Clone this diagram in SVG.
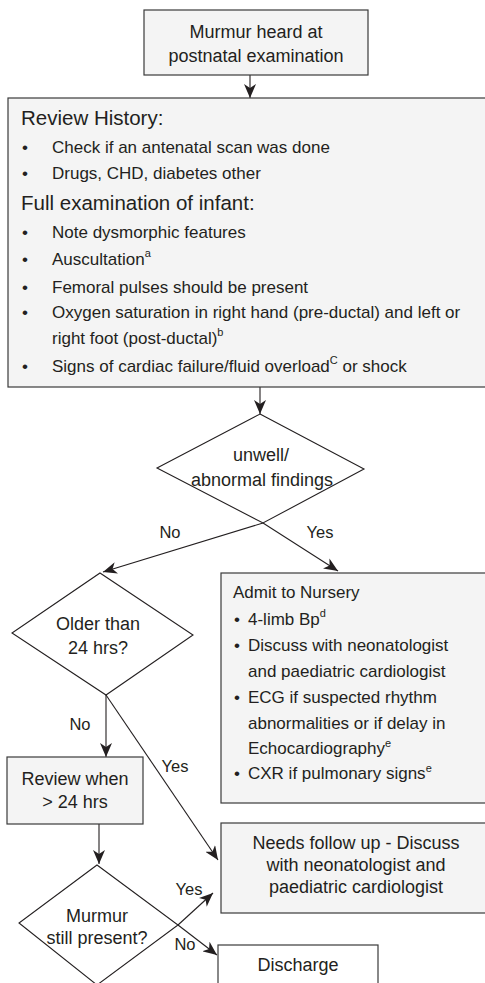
<svg xmlns="http://www.w3.org/2000/svg" width="485" height="983" viewBox="0 0 485 983">
  <defs>
    <marker id="arrow" markerUnits="userSpaceOnUse" markerWidth="16" markerHeight="12" refX="14" refY="6" orient="auto">
      <path d="M0,0 L14,6 L0,12 L4,6 Z" fill="#231f20"/>
    </marker>
    <style>
      .box { fill: #f4f4f4; stroke: #3a3a3a; stroke-width: 1.2; }
      .plain { fill: #ffffff; stroke: #3a3a3a; stroke-width: 1.2; }
      .dia { fill: #ffffff; stroke: #231f20; stroke-width: 1.1; }
      .edge { fill: none; stroke: #231f20; stroke-width: 1.1; marker-end: url(#arrow); }
      text { font-family: "Liberation Sans", Arial, sans-serif; fill: #231f20; }
      .c { text-anchor: middle; font-size: 18px; }
      .h { font-size: 20.5px; }
      .b { font-size: 17px; }
      .lbl { font-size: 16.5px; text-anchor: middle; }
      .sup { font-size: 11px; }
    </style>
  </defs>

  <g id="connectors">
    <line class="edge" x1="250" y1="75" x2="250" y2="98"/>
    <line class="edge" x1="260" y1="387" x2="260" y2="414"/>
    <polyline class="edge" points="263,523 103,572"/>
    <polyline class="edge" points="263,523 338,571"/>
    <line class="edge" x1="106" y1="695" x2="106" y2="757"/>
    <line class="edge" x1="106" y1="695" x2="218" y2="860"/>
    <line class="edge" x1="99" y1="824" x2="99" y2="864"/>
    <line class="edge" x1="178" y1="925" x2="213" y2="893"/>
    <line class="edge" x1="178" y1="925" x2="217" y2="955"/>
    <text class="lbl" x="170" y="538">No</text>
    <text class="lbl" x="320" y="538">Yes</text>
    <text class="lbl" x="80" y="730">No</text>
    <text class="lbl" x="175" y="772">Yes</text>
    <text class="lbl" x="189" y="895">Yes</text>
    <text class="lbl" x="185" y="950">No</text>
  </g>

  <g id="murmur-heard">
    <rect class="box" x="144" y="10" width="224" height="65"/>
    <text class="c" x="256" y="38">Murmur heard at</text>
    <text class="c" x="256" y="62">postnatal examination</text>
  </g>

  <g id="review-history">
    <rect class="box" x="8" y="98" width="490" height="289"/>
    <text class="h" x="21" y="125">Review History:</text>
    <text class="b" x="22" y="153">•</text>
    <text class="b" x="52" y="153">Check if an antenatal scan was done</text>
    <text class="b" x="22" y="179">•</text>
    <text class="b" x="52" y="179">Drugs, CHD, diabetes other</text>
    <text class="h" x="21" y="210">Full examination of infant:</text>
    <text class="b" x="22" y="238">•</text>
    <text class="b" x="52" y="238">Note dysmorphic features</text>
    <text class="b" x="22" y="265">•</text>
    <text class="b" x="52" y="265">Auscultation<tspan class="sup" dy="-8">a</tspan></text>
    <text class="b" x="22" y="293">•</text>
    <text class="b" x="52" y="293">Femoral pulses should be present</text>
    <text class="b" x="22" y="318">•</text>
    <text class="b" x="52" y="318">Oxygen saturation in right hand (pre-ductal) and left or</text>
    <text class="b" x="52" y="344">right foot (post-ductal)<tspan class="sup" dy="-8">b</tspan></text>
    <text class="b" x="22" y="372">•</text>
    <text class="b" x="52" y="372">Signs of cardiac failure/fluid overload<tspan class="sup" dy="-8">C</tspan><tspan dy="8"> or shock</tspan></text>
  </g>

  <g id="unwell">
    <polygon class="dia" points="260,414 364,469 263,523 157,468"/>
    <text class="c" x="261" y="461">unwell/</text>
    <text class="c" x="262" y="486">abnormal findings</text>
  </g>

  <g id="admit">
    <rect class="box" x="221" y="573" width="280" height="230"/>
    <text class="b" x="233" y="598">Admit to Nursery</text>
    <text class="b" x="234" y="625">•</text>
    <text class="b" x="248" y="625">4-limb Bp<tspan class="sup" dy="-8">d</tspan></text>
    <text class="b" x="234" y="651">•</text>
    <text class="b" x="248" y="651">Discuss with neonatologist</text>
    <text class="b" x="248" y="677">and paediatric cardiologist</text>
    <text class="b" x="234" y="703">•</text>
    <text class="b" x="248" y="703">ECG if suspected rhythm</text>
    <text class="b" x="248" y="729">abnormalities or if delay in</text>
    <text class="b" x="248" y="754">Echocardiography<tspan class="sup" dy="-7">e</tspan></text>
    <text class="b" x="234" y="779">•</text>
    <text class="b" x="248" y="779">CXR if pulmonary signs<tspan class="sup" dy="-7">e</tspan></text>
  </g>

  <g id="older-24h">
    <polygon class="dia" points="100,573 193,635 106,695 12,633"/>
    <text class="c" x="98" y="630">Older than</text>
    <text class="c" x="98" y="654">24 hrs?</text>
  </g>

  <g id="review-later">
    <rect class="box" x="7" y="757" width="136" height="67"/>
    <text class="c" x="75" y="785">Review when</text>
    <text class="c" x="75" y="808">&gt; 24 hrs</text>
  </g>

  <g id="follow-up">
    <rect class="box" x="221" y="823" width="280" height="90"/>
    <text class="c" x="356" y="849">Needs follow up - Discuss</text>
    <text class="c" x="356" y="871">with neonatologist and</text>
    <text class="c" x="356" y="893">paediatric cardiologist</text>
  </g>

  <g id="still-present">
    <polygon class="dia" points="97,865 178,925 97,985 19,923"/>
    <text class="c" x="97" y="922">Murmur</text>
    <text class="c" x="97" y="944">still present?</text>
  </g>

  <g id="discharge">
    <rect class="plain" x="218" y="945" width="160" height="60"/>
    <text class="c" x="298" y="971">Discharge</text>
  </g>
</svg>
